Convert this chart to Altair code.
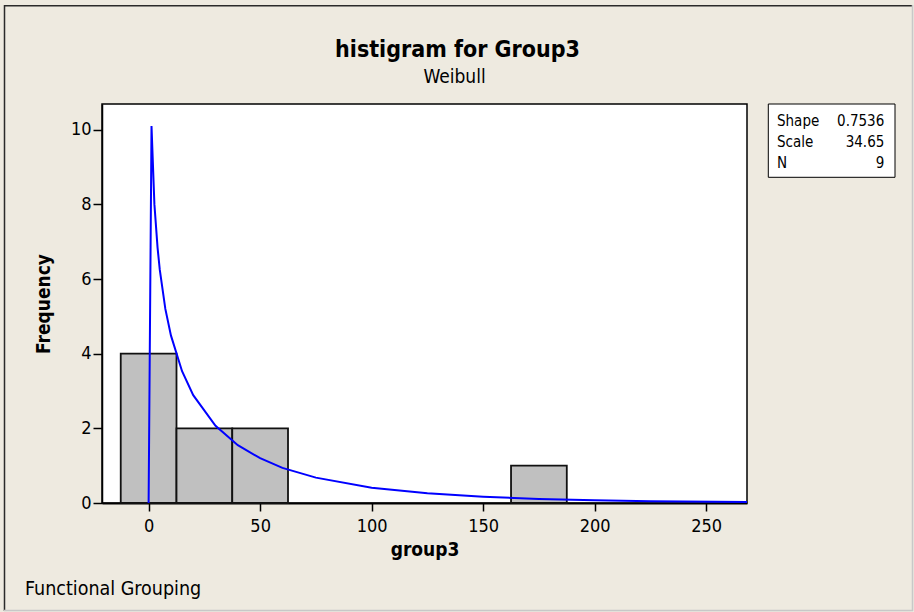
import altair as alt
import pandas as pd

# ---- data ----
bin_lo = [-12.5, 12.5, 37.5, 162.5]
bin_hi = [12.5, 37.5, 62.5, 187.5]
counts = [4, 2, 2, 1]

curve_x = [0, 1.3, 2.6, 4, 5, 7.5, 10, 15, 20, 30, 40, 50, 60, 75, 100, 125, 150, 175, 200, 225, 268.3]
curve_y = [0, 10.1, 8.0, 6.85, 6.25, 5.2, 4.49, 3.53, 2.89, 2.07, 1.55, 1.2, 0.94, 0.68, 0.41, 0.26,
           0.17, 0.11, 0.075, 0.05, 0.028]

x_ticks = [0, 50, 100, 150, 200, 250]
y_ticks = [0, 2, 4, 6, 8, 10]

stat_names = ["Shape", "Scale", "N"]
stat_values = ["0.7536", "34.65", "9"]

title_text = "histigram for Group3"
subtitle_text = "Weibull"
x_title = "group3"
y_title = "Frequency"
footer_text = "Functional Grouping"

# ---- chart ----
FONT = "'DejaVu Sans Condensed', 'DejaVu Sans', sans-serif"
W, H = 645, 399
BG = "#EEEAE0"

bars_df = pd.DataFrame({"lo": bin_lo, "hi": bin_hi, "count": counts})
curve_df = pd.DataFrame({"x": curve_x, "y": curve_y})
stats_df = pd.DataFrame({"names": ["\n".join(stat_names)], "vals": ["\n".join(stat_values)]})
text_df = pd.DataFrame({"footer": [footer_text], "title": [title_text], "sub": [subtitle_text]})
one = pd.DataFrame({"k": [0]})

xscale = alt.Scale(domain=[-20.9, 268.3], nice=False, zero=False)
yscale = alt.Scale(domain=[0, 10.69], nice=False, zero=False)

x_axis = alt.Axis(values=x_ticks, tickSize=8, tickWidth=1.5, tickColor="black",
                  domainColor="black", domainWidth=2, grid=False,
                  labelFont=FONT, labelFontSize=18, labelColor="black", labelPadding=6,
                  labelFlush=False,
                  titleFont=FONT, titleFontSize=19, titleFontWeight="bold", titleColor="black",
                  titlePadding=5)
y_axis = alt.Axis(values=y_ticks, tickSize=9, tickWidth=1.5, tickColor="black",
                  domainColor="black", domainWidth=1.5, grid=False,
                  labelFont=FONT, labelFontSize=18, labelColor="black", labelPadding=2,
                  labelFlush=False,
                  titleFont=FONT, titleFontSize=19, titleFontWeight="bold", titleColor="black",
                  titleX=-49)

bars = alt.Chart(bars_df).mark_rect(fill="#C0C0C0", stroke="#111111", strokeWidth=1.8).encode(
    x=alt.X("lo:Q", scale=xscale, axis=x_axis, title=x_title),
    x2="hi:Q",
    y=alt.Y("count:Q", scale=yscale, axis=y_axis, title=y_title),
    y2=alt.datum(0),
)

curve = alt.Chart(curve_df).mark_line(color="#0000FF", strokeWidth=2).encode(
    x=alt.X("x:Q", scale=xscale, title=x_title),
    y=alt.Y("y:Q", scale=yscale, title=y_title),
)

box = alt.Chart(one).mark_rect(fill="white", stroke="black", strokeWidth=1).encode(
    x=alt.value(666.3), x2=alt.value(793), y=alt.value(0), y2=alt.value(73.3)
)
names = alt.Chart(stats_df).mark_text(align="left", baseline="alphabetic", lineBreak="\n",
                                      lineHeight=21.3, fontSize=15, font=FONT, color="black").encode(
    x=alt.value(675), y=alt.value(21.7), text="names:N"
)
vals = alt.Chart(stats_df).mark_text(align="right", baseline="alphabetic", lineBreak="\n",
                                     lineHeight=21.3, fontSize=15, font=FONT, color="black").encode(
    x=alt.value(782.3), y=alt.value(21.7), text="vals:N"
)
footer = alt.Chart(text_df).mark_text(align="left", baseline="alphabetic", fontSize=19.5,
                                      font=FONT, color="black").encode(
    x=alt.value(-77), y=alt.value(491), text="footer:N"
)
title = alt.Chart(text_df).mark_text(align="center", baseline="alphabetic", fontSize=23,
                                     fontWeight="bold", font=FONT, color="black").encode(
    x=alt.value(355.5), y=alt.value(-47), text="title:N"
)
subtitle = alt.Chart(text_df).mark_text(align="center", baseline="alphabetic", fontSize=19,
                                        font=FONT, color="black").encode(
    x=alt.value(352.5), y=alt.value(-20.7), text="sub:N"
)

dark = "#2A2A2A"
light = "#C8C8C8"
frame_top = alt.Chart(one).mark_rule(color=dark, strokeWidth=1.5).encode(
    x=alt.value(-98), x2=alt.value(811), y=alt.value(-98.3))
frame_left = alt.Chart(one).mark_rule(color=dark, strokeWidth=1.5).encode(
    x=alt.value(-97.5), y=alt.value(-99), y2=alt.value(507))
frame_right = alt.Chart(one).mark_rule(color=light, strokeWidth=1.5).encode(
    x=alt.value(810.5), y=alt.value(-99), y2=alt.value(507))
frame_bottom = alt.Chart(one).mark_rule(color=light, strokeWidth=1.5).encode(
    x=alt.value(-98), x2=alt.value(811), y=alt.value(506.5))

chart = alt.layer(
    bars, curve, box, names, vals, footer, title, subtitle,
    frame_top, frame_left, frame_right, frame_bottom
).properties(
    width=W, height=H,
    autosize=alt.AutoSizeParams(type="none"),
    padding={"left": 102, "top": 104, "right": 167, "bottom": 109},
    background=BG,
).configure_view(fill="white", stroke="black", strokeWidth=1.5)

chart.save("out.html", embed_options={"renderer": "svg", "actions": False})
